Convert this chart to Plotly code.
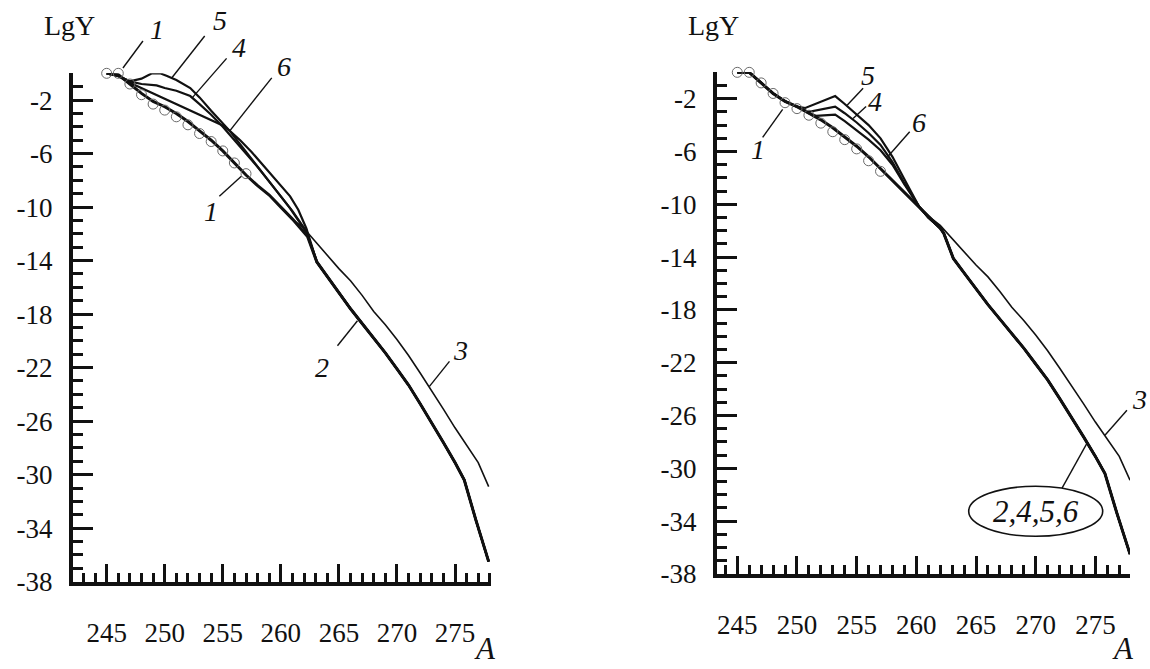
import plotly.graph_objects as go

# ---------------- data ----------------
# curve 1 (open circles)
A_circ = [245, 246, 247, 248, 249, 250, 251, 252, 253, 254, 255, 256, 257]
Y_circ = [0, 0, -0.8, -1.6, -2.3, -2.75, -3.25, -3.85, -4.5, -5.1, -5.8, -6.7, -7.5]

# common lower branch of curves 2,4,5,6
A_tail = [264, 265, 266, 267, 268, 269, 270, 271, 272, 273, 274, 275, 275.8, 276.8, 277.9]
Y_tail = [-15.2, -16.4, -17.6, -18.7, -19.8, -20.9, -22.1, -23.3, -24.7, -26.1, -27.6, -29.1, -30.4, -33.4, -36.5]

# curve 3 lower branch
A3 = [262, 263, 264, 265, 266, 267, 268, 269, 270, 271, 272, 273, 274, 275, 276, 277, 277.9]
Y3 = [-11.6, -12.6, -13.6, -14.6, -15.5, -16.6, -17.8, -18.8, -19.9, -21.1, -22.4, -23.7, -25.1, -26.5, -27.8, -29.1, -30.9]

# left panel, upper parts
L2_A = [245, 246, 247, 248, 249, 250, 251, 252, 253, 254, 255, 256, 257, 258, 259, 260, 261, 262, 262.3, 263.1]
L2_Y = [0, -0.1, -0.8, -1.5, -2.1, -2.5, -3.0, -3.6, -4.3, -5.0, -5.8, -6.7, -7.6, -8.4, -9.1, -10.0, -10.9, -11.9, -12.2, -14.1]
L4_A = [245, 246, 247, 248, 249.3, 250, 251, 252.2, 253, 254, 255, 256, 257, 258, 259, 260, 261, 262.2, 263.1]
L4_Y = [0, -0.2, -0.6, -0.8, -0.9, -1.1, -1.3, -1.7, -2.3, -3.1, -4.0, -5.0, -6.0, -7.0, -8.1, -9.2, -10.3, -11.8, -14.1]
L5_A = [245, 246, 247, 248, 248.9, 249.6, 250.2, 251, 252.2, 253, 254, 255, 255.6, 256, 257, 258, 259, 260, 260.8, 261.5, 262.2, 263.1]
L5_Y = [0, -0.2, -0.6, -0.4, 0.0, 0.0, -0.2, -0.5, -1.1, -1.8, -2.8, -3.7, -4.3, -4.75, -5.85, -6.95, -8.05, -9.2, -10.1, -11.0, -11.9, -14.1]
L6_A = [245, 246, 247, 248, 249, 250, 251, 252, 253, 254, 255, 255.6, 256.5, 257.5, 258.4, 259.5, 260.8, 261.5, 262.2, 263.1]
L6_Y = [0, -0.2, -0.7, -1.1, -1.5, -1.9, -2.3, -2.7, -3.1, -3.5, -3.9, -4.3, -5.0, -5.9, -6.8, -7.9, -9.2, -10.2, -11.6, -14.1]

# right panel, upper parts
R2_A = [245, 246, 247, 248, 249, 250, 251, 252, 253, 254, 255, 256, 257, 258, 259, 260, 261, 262, 262.3, 263.1]
R2_Y = [0, 0, -0.8, -1.6, -2.2, -2.6, -3.1, -3.6, -4.2, -4.9, -5.6, -6.4, -7.3, -8.2, -9.1, -10.0, -10.9, -11.8, -12.2, -14.1]
R5_A = [245, 246, 247, 248, 249, 250, 250.7, 253.2, 254, 255, 256, 257, 258, 259, 260.25, 261, 262, 262.3, 263.1]
R5_Y = [0, 0, -0.8, -1.6, -2.2, -2.6, -2.7, -1.8, -2.4, -3.2, -4.0, -5.0, -6.4, -8.1, -10.2, -11.0, -11.8, -12.2, -14.1]
R4_A = [245, 246, 247, 248, 249, 250, 251, 253.2, 254, 255, 256, 257, 258, 259, 260.25, 261, 262, 262.3, 263.1]
R4_Y = [0, 0, -0.8, -1.6, -2.2, -2.6, -3.0, -2.6, -3.1, -3.8, -4.6, -5.5, -6.8, -8.4, -10.2, -11.0, -11.8, -12.2, -14.1]
R6_A = [245, 246, 247, 248, 249, 250, 251, 251.6, 253.2, 254, 255, 256, 257, 258, 259, 260.25, 261, 262, 262.3, 263.1]
R6_Y = [0, 0, -0.8, -1.6, -2.2, -2.6, -3.1, -3.3, -3.2, -3.7, -4.4, -5.1, -5.9, -7.0, -8.5, -10.2, -11.0, -11.8, -12.2, -14.1]

x_major = [245, 250, 255, 260, 265, 270, 275]
y_major = [-2, -6, -10, -14, -18, -22, -26, -30, -34, -38]
x_range_left = [242.1, 278.1]
x_range_right = [243.3, 277.9]
y_range = [-38, 0]

# ---------------- figure ----------------
W, H = 1150, 669
FONT = "Liberation Serif"
INK = "#111111"

DOM = {
    "L": dict(x=[73 / W, 491 / W], y=[1 - 595 / H, 1 - 75 / H], xr=x_range_left),
    "R": dict(x=[717 / W, 1130 / W], y=[1 - 587 / H, 1 - 74 / H], xr=x_range_right),
}

fig = go.Figure()


def head_to(a, y, limit):
    pa = [v for v in a if v <= limit]
    return pa, y[:len(pa)]


def add_panel(xa, ya, h2, h4, h5, h6):
    # curve 3 (thin): upper part of curve 2, then its own branch
    c3a, c3y = head_to(h2[0], h2[1], 261)
    fig.add_trace(go.Scatter(x=c3a + A3, y=c3y + Y3, mode="lines", xaxis=xa, yaxis=ya,
                             line=dict(color=INK, width=1.6), showlegend=False, hoverinfo="skip"))
    for (ha, hy), w in [(h6, 2.2), (h4, 2.2), (h5, 2.2), (h2, 3.0)]:
        fig.add_trace(go.Scatter(x=ha + A_tail, y=hy + Y_tail, mode="lines", xaxis=xa, yaxis=ya,
                                 line=dict(color=INK, width=w), showlegend=False, hoverinfo="skip"))
    fig.add_trace(go.Scatter(x=A_circ, y=Y_circ, mode="markers", xaxis=xa, yaxis=ya,
                             marker=dict(symbol="circle-open", size=10, color="#6a6a6a",
                                         line=dict(width=1, color="#6a6a6a")),
                             cliponaxis=False, showlegend=False, hoverinfo="skip"))


add_panel("x", "y", (L2_A, L2_Y), (L4_A, L4_Y), (L5_A, L5_Y), (L6_A, L6_Y))
add_panel("x2", "y2", (R2_A, R2_Y), (R4_A, R4_Y), (R5_A, R5_Y), (R6_A, R6_Y))


def xaxis_style(dom, anchor, rng):
    return dict(domain=dom, anchor=anchor, range=rng, showgrid=False, zeroline=False,
                showline=True, linecolor=INK, linewidth=4, mirror=False,
                tickvals=x_major, ticktext=[str(v) for v in x_major], ticks="inside", ticklen=18,
                tickwidth=3, tickcolor=INK, ticklabelstandoff=24,
                minor=dict(dtick=1, tick0=0, ticks="inside", ticklen=9, tickwidth=3, tickcolor=INK),
                tickfont=dict(family=FONT, size=27, color=INK))


def yaxis_style(dom, anchor):
    return dict(domain=dom, anchor=anchor, range=y_range, showgrid=False, zeroline=False,
                showline=True, linecolor=INK, linewidth=4, mirror=False,
                tickvals=y_major, ticktext=[str(v) for v in y_major], ticks="inside", ticklen=20,
                tickwidth=3, tickcolor=INK, ticklabelstandoff=11,
                minor=dict(dtick=1, tick0=0, ticks="inside", ticklen=10, tickwidth=3, tickcolor=INK),
                tickfont=dict(family=FONT, size=27, color=INK))


fig.update_layout(
    width=W, height=H, margin=dict(l=0, r=0, t=0, b=0),
    paper_bgcolor="white", plot_bgcolor="white",
    xaxis=xaxis_style(DOM["L"]["x"], "y", x_range_left),
    yaxis=yaxis_style(DOM["L"]["y"], "x"),
    xaxis2=xaxis_style(DOM["R"]["x"], "y2", x_range_right),
    yaxis2=yaxis_style(DOM["R"]["y"], "x2"),
)

annotations = []
shapes = []


def to_paper(panel, a, y):
    d = DOM[panel]
    (x0, x1), (y0, y1), (r0, r1) = d["x"], d["y"], d["xr"]
    px = x0 + (a - r0) / (r1 - r0) * (x1 - x0)
    py = y0 + (y - y_range[0]) / (y_range[1] - y_range[0]) * (y1 - y0)
    return px, py


def label(panel, a, y, text, lx, ly, tx, ty, size=28):
    # leader from curve point (a, y) to pixel offset (lx, ly); text centred at pixel offset (tx, ty)
    px, py = to_paper(panel, a, y)
    shapes.append(dict(type="line", xref="paper", yref="paper", xsizemode="pixel", ysizemode="pixel",
                       xanchor=px, yanchor=py, x0=0, y0=0, x1=lx, y1=-ly,
                       line=dict(color=INK, width=1.4)))
    annotations.append(dict(xref="paper", yref="paper", x=px, y=py, xshift=tx, yshift=-ty, showarrow=False,
                            text="<i>%s</i>" % text, font=dict(family=FONT, size=size, color=INK),
                            xanchor="center", yanchor="middle"))


# left panel labels
label("L", 246.4, 0.4, "1", 20, -27, 34, -38)
label("L", 250.6, -0.35, "5", 33, -42, 48, -58)
label("L", 252.4, -1.8, "4", 34, -39, 46, -50)
label("L", 255.6, -4.3, "6", 42, -53, 54, -64)
label("L", 256.6, -7.7, "1", -22, 20, -30, 35)
label("L", 266.6, -18.5, "2", -20, 25, -35, 47)
label("L", 272.8, -23.4, "3", 20, -25, 31, -36)

# right panel labels
label("R", 248.8, -2.8, "1", -20, 28, -25, 40)
label("R", 254.2, -2.5, "5", 16, -17, 21, -30)
label("R", 254.7, -3.5, "4", 13, -12, 22, -17)
label("R", 257.6, -6.4, "6", 22, -25, 31, -34)
label("R", 275.8, -27.5, "3", 22, -25, 35, -36)

# "2,4,5,6" ellipse label
lp = to_paper("R", 274.3, -28.1)
shapes.append(dict(type="line", xref="paper", yref="paper", xsizemode="pixel", ysizemode="pixel",
                   xanchor=lp[0], yanchor=lp[1], x0=0, y0=0, x1=-25, y1=-45,
                   line=dict(color=INK, width=1.4)))
ep = to_paper("R", 270.0, -33.26)
shapes.append(dict(type="circle", xref="paper", yref="paper", xsizemode="pixel", ysizemode="pixel",
                   xanchor=ep[0], yanchor=ep[1], x0=-67, x1=67, y0=-25, y1=25,
                   line=dict(color=INK, width=1.6), fillcolor="rgba(0,0,0,0)"))
annotations.append(dict(xref="paper", yref="paper", x=ep[0], y=ep[1], showarrow=False,
                        xanchor="center", yanchor="middle",
                        text="<i>2,4,5,6</i>", font=dict(family=FONT, size=31, color=INK)))

# axis titles
for px_, py_, t in [(69, 26, "LgY"), (713, 26, "LgY")]:
    annotations.append(dict(xref="paper", yref="paper", x=px_ / W, y=1 - py_ / H, showarrow=False,
                            text=t, font=dict(family=FONT, size=28, color=INK),
                            xanchor="center", yanchor="middle"))
for px_ in [485, 1123]:
    annotations.append(dict(xref="paper", yref="paper", x=px_ / W, y=0, yshift=-13, showarrow=False,
                            text="<i>A</i>", font=dict(family=FONT, size=31, color=INK),
                            xanchor="center", yanchor="bottom", borderpad=0))

fig.update_layout(annotations=annotations, shapes=shapes)

fig.write_html("out.html")
